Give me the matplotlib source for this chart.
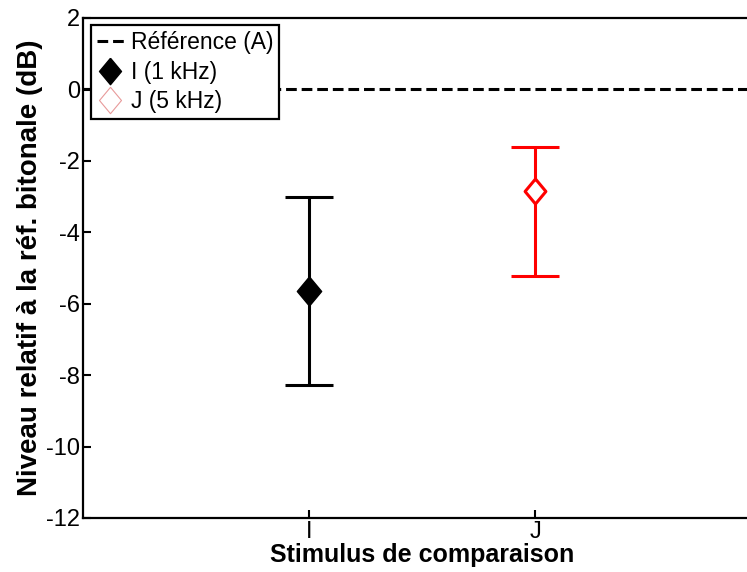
import numpy as np
import matplotlib.pyplot as plt
from matplotlib.lines import Line2D

plt.rcParams['font.family'] = ['Liberation Sans', 'DejaVu Sans']
plt.rcParams['axes.unicode_minus'] = False

# data
stimuli = ["I", "J"]
x_pos = [1, 2]
means = [-5.65, -2.83]
err_low = [2.63, 2.40]
err_high = [2.64, 1.22]
colors = ["black", "red"]
ref_level = 0
y_ticks = [2, 0, -2, -4, -6, -8, -10, -12]

# slightly tall diamond, like the matlab one
diamond = [(0, 1.2), (1, 0), (0, -1.2), (-1, 0), (0, 1.2)]

fig = plt.figure(figsize=(7.47, 5.72), dpi=100)
ax = fig.add_axes([83/747, 54/572, 678/747, 500/572])

ax.plot([0, 3], [ref_level, ref_level], color="black", lw=2.2, ls=(0, (3.5, 1.6)))

# I: filled diamond
ax.errorbar(x_pos[0], means[0], yerr=[[err_low[0]], [err_high[0]]], fmt="none",
            ecolor=colors[0], elinewidth=2.2, capsize=17.5, capthick=2.2)
ax.plot(x_pos[0], means[0], marker=diamond, ms=21, color="black", ls="none")
# J: open diamond
ax.errorbar(x_pos[1], means[1], yerr=[[err_low[1]], [err_high[1]]], fmt="none",
            ecolor=colors[1], elinewidth=2.2, capsize=17.5, capthick=2.2)
ax.plot(x_pos[1], means[1], marker=diamond, ms=18, mfc="white", mec="red",
        mew=2.2, ls="none")

ax.set_xlim(0, 3)
ax.set_ylim(-12, 2)
ax.set_xticks(x_pos)
ax.set_xticklabels(stimuli)
ax.set_yticks(y_ticks)
ax.tick_params(direction="in", length=6, width=1.5, labelsize=17, pad=2)
for s in ax.spines.values():
    s.set_linewidth(1.6)

ax.set_xlabel("Stimulus de comparaison", fontsize=18, fontweight="bold", labelpad=0)
ax.set_ylabel("Niveau relatif à la réf. bitonale (dB)", fontsize=20, fontweight="bold", labelpad=2)

handles = [
    Line2D([], [], color="black", lw=2.2, ls=(0, (3.5, 1.6))),
    Line2D([], [], color="black", marker=diamond, ls="none", ms=19, mfc="black"),
    Line2D([], [], color="#e89a9a", marker=diamond, ls="none", ms=19, mfc="white", mew=0.8),
]
leg = ax.legend(handles, ["Référence (A)", "I (1 kHz)", "J (5 kHz)"],
                loc="upper left", bbox_to_anchor=(91/747, 1 - 25/572),
                bbox_transform=fig.transFigure, fontsize=16.5, frameon=True,
                fancybox=False, edgecolor="black", framealpha=1,
                handlelength=1.2, handletextpad=0.3, borderpad=0.25,
                labelspacing=0.3, borderaxespad=0)
leg.get_frame().set_linewidth(1.6)

fig.savefig("out.png", dpi=100)
